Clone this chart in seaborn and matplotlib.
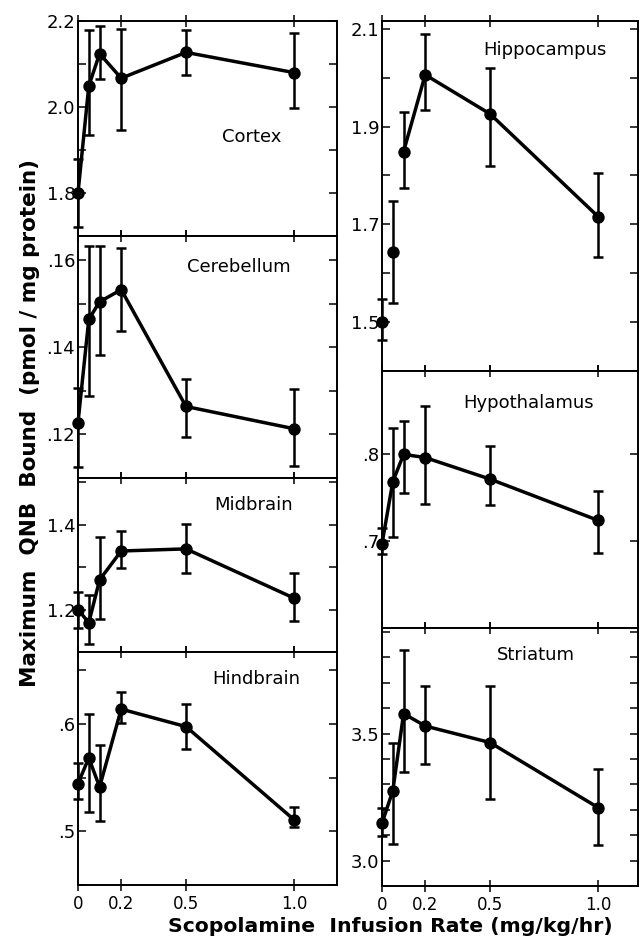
import numpy as np
import matplotlib
matplotlib.use("Agg")
import matplotlib.pyplot as plt
import seaborn as sns

# dose of scopolamine (mg/kg/hr)
dose = [0, 0.05, 0.1, 0.2, 0.5, 1.0]

# values: mean, top and bottom of error bar
cortex_mean = [1.80, 2.049, 2.124, 2.067, 2.127, 2.080]
cortex_hi = [1.88, 2.178, 2.189, 2.181, 2.178, 2.173]
cortex_lo = [1.72, 1.934, 2.066, 1.947, 2.075, 1.997]

cereb_mean = [0.1227, 0.1464, 0.1504, 0.1532, 0.1264, 0.1213]
cereb_hi = [0.1307, 0.1631, 0.1631, 0.1627, 0.1327, 0.1303]
cereb_lo = [0.1125, 0.1289, 0.1382, 0.1438, 0.1193, 0.1127]

mid_mean = [1.200, 1.169, 1.270, 1.338, 1.343, 1.227]
mid_hi = [1.241, 1.234, 1.371, 1.385, 1.402, 1.287]
mid_lo = [1.157, 1.120, 1.177, 1.297, 1.285, 1.173]

hind_mean = [0.5445, 0.5683, 0.5413, 0.6138, 0.5975, 0.5108]
hind_hi = [0.5638, 0.6088, 0.580, 0.6296, 0.6183, 0.5225]
hind_lo = [0.530, 0.5182, 0.5093, 0.6013, 0.5768, 0.5038]

hippo_mean = [1.500, 1.643, 1.849, 2.006, 1.926, 1.716]
hippo_hi = [1.548, 1.747, 1.930, 2.089, 2.020, 1.805]
hippo_lo = [1.464, 1.539, 1.774, 1.934, 1.820, 1.634]

hypo_mean = [0.697, 0.7685, 0.800, 0.7963, 0.7715, 0.724]
hypo_hi = [0.715, 0.830, 0.838, 0.8556, 0.8093, 0.7581]
hypo_lo = [0.685, 0.705, 0.7556, 0.7426, 0.7418, 0.686]

stri_mean = [3.147, 3.275, 3.579, 3.530, 3.465, 3.209]
stri_hi = [3.206, 3.465, 3.829, 3.687, 3.687, 3.359]
stri_lo = [3.096, 3.066, 3.349, 3.382, 3.242, 3.063]

# tick labels
xtick_vals = [0, 0.2, 0.5, 1.0]
xtick_labels = ["0", "0.2", "0.5", "1.0"]

cortex_ticks = [1.8, 2.0, 2.2]
cortex_labels = ["1.8", "2.0", "2.2"]
cereb_ticks = [0.12, 0.14, 0.16]
cereb_labels = [".12", ".14", ".16"]
mid_ticks = [1.2, 1.4]
mid_labels = ["1.2", "1.4"]
hind_ticks = [0.5, 0.6]
hind_labels = [".5", ".6"]
hippo_ticks = [1.5, 1.7, 1.9, 2.1]
hippo_labels = ["1.5", "1.7", "1.9", "2.1"]
hypo_ticks = [0.7, 0.8]
hypo_labels = [".7", ".8"]
stri_ticks = [3.0, 3.5]
stri_labels = ["3.0", "3.5"]

sns.set_style("ticks")
plt.rcParams['font.family'] = ['DejaVu Sans']
plt.rcParams['text.color'] = 'black'
plt.rcParams['xtick.color'] = 'black'
plt.rcParams['ytick.color'] = 'black'

fig = plt.figure(figsize=(6.42, 9.43), dpi=100)

W, H = 642.0, 943.0


def make_ax(left, right, top, bottom):
    return fig.add_axes([left / W, 1 - bottom / H, (right - left) / W, (bottom - top) / H])


panels = [
    # name, x-range px, y-range px, data, ylim, ticks, labels, minor step, title pos, bottom panel
    ("Cortex", (78, 337), (21, 236), (cortex_mean, cortex_hi, cortex_lo), (1.705, 2.2),
     cortex_ticks, cortex_labels, 0.1, (0.67, 0.46), False, 0),
    ("Cerebellum", (78, 337), (236, 478), (cereb_mean, cereb_hi, cereb_lo), (0.111, 0.1655),
     cereb_ticks, cereb_labels, 0.01, (0.62, 0.87), False, 0),
    ("Midbrain", (78, 337), (478, 652), (mid_mean, mid_hi, mid_lo), (1.104, 1.51),
     mid_ticks, mid_labels, 0.1, (0.676, 0.845), False, 0),
    ("Hindbrain", (78, 337), (652, 885), (hind_mean, hind_hi, hind_lo), (0.4925, 0.667),
     hind_ticks, hind_labels, 0.05, (0.687, 0.884), True, 0),
    ("Hippocampus", (382, 638), (21, 371), (hippo_mean, hippo_hi, hippo_lo), (1.455, 2.116),
     hippo_ticks, hippo_labels, 0.1, (0.637, 0.917), False, 2),
    ("Hypothalamus", (382, 638), (371, 628), (hypo_mean, hypo_hi, hypo_lo), (0.611, 0.896),
     hypo_ticks, hypo_labels, 0.1, (0.574, 0.875), False, 0),
    ("Striatum", (382, 638), (628, 886), (stri_mean, stri_hi, stri_lo), (2.905, 3.916),
     stri_ticks, stri_labels, 0.1, (0.60, 0.895), True, 0),
]

for name, (xl, xr), (yt, yb), (mean, hi, lo), ylim, yt_vals, yt_labels, minor, tpos, is_bottom, start in panels:
    ax = make_ax(xl, xr, yt, yb)
    mean_a = np.array(mean)
    err = [mean_a - np.array(lo), np.array(hi) - mean_a]
    eb = ax.errorbar(dose, mean, yerr=err, fmt="none", ecolor="black", elinewidth=1.8,
                     capsize=3.5, capthick=1.8, zorder=2)
    for part in eb.get_children():
        part.set_clip_on(False)
    sns.lineplot(x=dose[start:], y=mean[start:], ax=ax, color="black", linewidth=2.5,
                 marker=None, zorder=3)
    sns.scatterplot(x=dose, y=mean, ax=ax, color="black", s=80, edgecolor="black",
                    linewidth=0, zorder=4, clip_on=False)
    for ln in ax.lines:
        ln.set_clip_on(False)
    ax.set_xlim(0, (xr - xl) / 216.0)
    ax.set_ylim(*ylim)
    ax.set_xticks(xtick_vals)
    ax.set_yticks(yt_vals, labels=yt_labels)
    minors = np.arange(np.floor(ylim[0] / minor) * minor, ylim[1] + 1e-9, minor)
    ax.set_yticks(minors, minor=True)
    ax.tick_params(axis="x", direction="inout", length=9, width=1.1, top=True, bottom=True,
                   labelsize=12, pad=3)
    ax.tick_params(axis="y", which="both", direction="in", length=6, width=1.1, left=True,
                   right=True, labelsize=13, pad=2)
    if is_bottom:
        ax.set_xticklabels(xtick_labels)
    else:
        ax.set_xticklabels([])
    for sp in ax.spines.values():
        sp.set_visible(True)
        sp.set_linewidth(1.4)
        sp.set_color("black")
    ax.set_xlabel("")
    ax.set_ylabel("")
    ax.text(tpos[0], tpos[1], name, transform=ax.transAxes, ha="center", va="center",
            fontsize=13)

fig.text(390 / W, 1 - 926 / H, "Scopolamine  Infusion Rate (mg/kg/hr)", ha="center",
         va="center", fontsize=14.7, fontweight="bold")
fig.text(30 / W, 1 - 423 / H, "Maximum  QNB  Bound  (pmol / mg protein)", ha="center",
         va="center", rotation=90, fontsize=15.5, fontweight="bold")

fig.savefig("out.png", dpi=100)
